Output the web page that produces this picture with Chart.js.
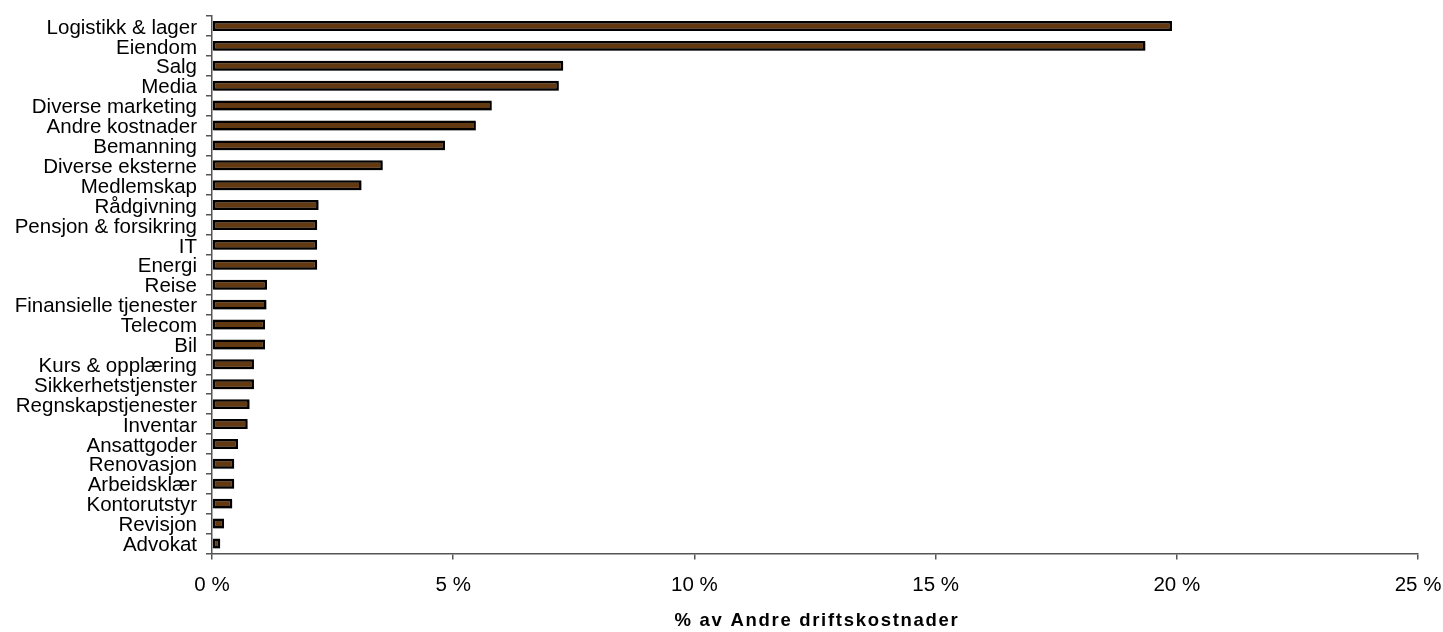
<!DOCTYPE html>
<html lang="no">
<head>
<meta charset="UTF-8">
<title>Andre driftskostnader</title>
<script src="https://cdn.jsdelivr.net/npm/chart.js@4.4.0/dist/chart.umd.min.js"></script>
<style>
  html, body { margin: 0; padding: 0; background: #fff; }
  #wrap { width: 1443px; height: 632px; }
</style>
</head>
<body>
<div id="wrap"><canvas id="kostChart"></canvas></div>

<script>
// kostnadsgrupper, største først
var kategorier = [
    'Logistikk & lager', 'Eiendom', 'Salg', 'Media', 'Diverse marketing',
    'Andre kostnader', 'Bemanning', 'Diverse eksterne', 'Medlemskap', 'Rådgivning',
    'Pensjon & forsikring', 'IT', 'Energi', 'Reise', 'Finansielle tjenester',
    'Telecom', 'Bil', 'Kurs & opplæring', 'Sikkerhetstjenster', 'Regnskapstjenester',
    'Inventar', 'Ansattgoder', 'Renovasjon', 'Arbeidsklær', 'Kontorutstyr',
    'Revisjon', 'Advokat'
];
// andel i prosent
var andel = [
    19.9, 19.35, 7.28, 7.19, 5.8,
    5.47, 4.83, 3.54, 3.1, 2.21,
    2.18, 2.18, 2.18, 1.14, 1.13,
    1.1, 1.1, 0.87, 0.87, 0.78,
    0.74, 0.54, 0.46, 0.46, 0.42,
    0.25, 0.17
];
var xTicks = [0, 5, 10, 15, 20, 25];
var xTittel = '% av Andre driftskostnader';

var FONT = 'Liberation Sans, Arial, sans-serif';

// lett skygge bak stolpene
var skygge = {
    id: 'skygge',
    beforeDatasetsDraw: function (chart) {
        var c = chart.ctx;
        c.save();
        c.shadowColor = 'rgba(0,0,0,0.28)';
        c.shadowOffsetX = 1.5;
        c.shadowOffsetY = 1.5;
        c.shadowBlur = 0.5;
    },
    afterDatasetsDraw: function (chart) {
        chart.ctx.restore();
    }
};

// aksetittel med sperret skrift
var tittel = {
    id: 'tittel',
    afterDraw: function (chart) {
        var c = chart.ctx;
        var a = chart.chartArea;
        c.save();
        c.font = 'bold 18.5px ' + FONT;
        c.fillStyle = '#000';
        c.textAlign = 'center';
        c.textBaseline = 'middle';
        if ('letterSpacing' in c) c.letterSpacing = '1.7px';
        c.fillText(xTittel, (a.left + a.right) / 2 + 2, 621);
        c.restore();
    }
};

var ctx = document.getElementById('kostChart').getContext('2d');
var kostChart = new Chart(ctx, {
    type: 'bar',
    data: {
        labels: kategorier,
        datasets: [{
            data: andel,
            backgroundColor: '#633912',
            borderColor: '#000000',
            borderWidth: 2.5,
            borderSkipped: false,
            barPercentage: 0.5,
            categoryPercentage: 1
        }]
    },
    plugins: [skygge, tittel],
    options: {
        indexAxis: 'y',
        responsive: true,
        maintainAspectRatio: false,
        animation: false,
        layout: { padding: { top: 16, right: 25, bottom: 20, left: 0 } },
        plugins: {
            legend: { display: false },
            tooltip: { enabled: false }
        },
        scales: {
            x: {
                min: 0,
                max: 25,
                afterBuildTicks: function (s) {
                    s.ticks = xTicks.map(function (v) { return { value: v }; });
                },
                afterFit: function (s) { s.paddingRight = 0; s.paddingLeft = 0; },
                border: { display: true, color: '#555', width: 1.5 },
                grid: {
                    drawOnChartArea: false,
                    drawTicks: true,
                    tickLength: 6,
                    color: '#555',
                    lineWidth: 1.5
                },
                ticks: {
                    color: '#000',
                    padding: 14,
                    maxRotation: 0,
                    font: { family: FONT, size: 20.5 },
                    callback: function (v) { return v + ' %'; }
                }
            },
            y: {
                afterFit: function (s) { s.width = 212; s.paddingTop = 0; s.paddingBottom = 0; },
                border: { display: true, color: '#555', width: 1.5 },
                grid: {
                    drawOnChartArea: false,
                    offset: true,
                    tickLength: 6,
                    color: '#555',
                    lineWidth: 1.5
                },
                ticks: {
                    color: '#000',
                    padding: 9,
                    labelOffset: 2,
                    autoSkip: false,
                    font: { family: FONT, size: 20.5, lineHeight: 1 }
                }
            }
        }
    }
});
</script>
</body>
</html>
